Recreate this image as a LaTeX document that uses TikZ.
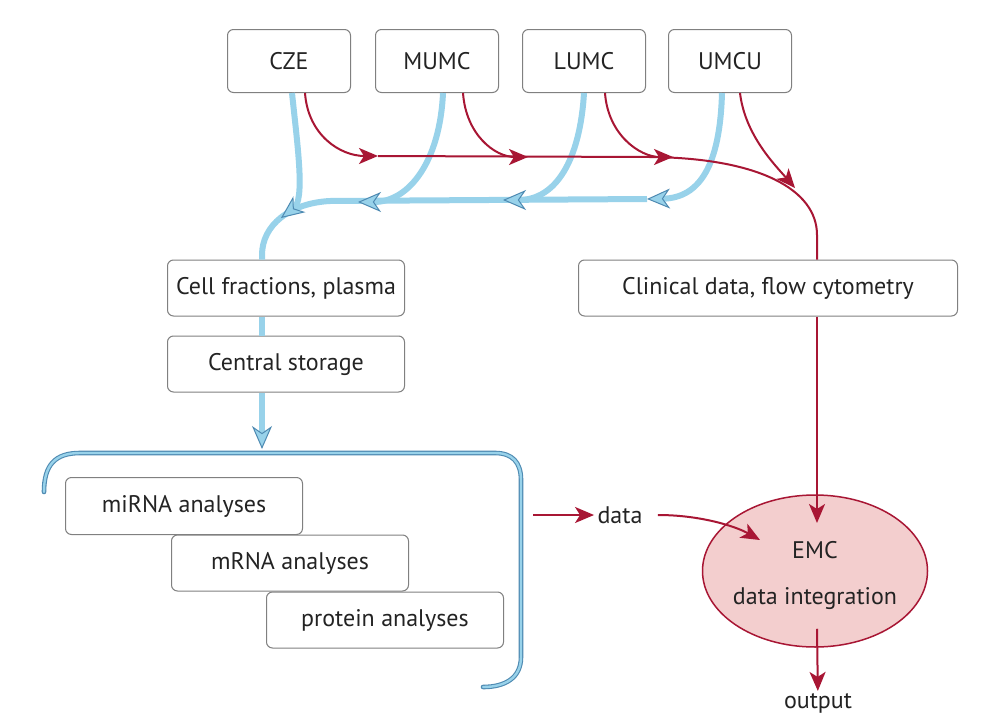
\documentclass[tikz,border=0pt]{standalone}
\usepackage{fontspec}
\setmainfont{PT Sans}
\usetikzlibrary{arrows.meta, shapes.geometric}
\definecolor{flowred}{RGB}{168,22,52}
\definecolor{flowblue}{RGB}{152,210,234}
\definecolor{tipblue}{RGB}{78,138,178}
\definecolor{boxgray}{RGB}{128,128,128}
\definecolor{textgray}{RGB}{35,35,35}
\definecolor{emcfill}{RGB}{243,206,206}

\begin{document}
\begin{tikzpicture}[x = 1pt, y = -1pt, font = \fontsize{24}{28}\selectfont, text = textgray,
    centre/.style = {draw = boxgray, line width = 1pt, rounded corners = 6pt, fill = white, minimum width = 123pt, minimum height = 63pt},
    stage/.style = {centre, minimum width = 237pt, minimum height = 56pt},
    sample/.style = {draw = flowblue, line width = 6pt},
    sampletip/.style = {-{Stealth[length = 23pt, width = 20pt, inset = 7pt, line width = 1pt, color = tipblue, fill = flowblue]}},
    datum/.style = {draw = flowred, line width = 2pt},
    datatip/.style = {-{Stealth[length = 19pt, width = 16pt, inset = 5pt]}}]
  \fill[white] (0,0) rectangle (993,728);
  \useasboundingbox (0,0) rectangle (993,728);

  \node[centre] (cze) at (289,61) {CZE};
  \node[centre] (mumc) at (437,61) {MUMC};
  \node[centre] (lumc) at (584,61) {LUMC};
  \node[centre] (umcu) at (730,61) {UMCU};

  \node[stage] (cells) at (286,288) {Cell fractions, plasma};
  \node[stage] (storage) at (286,364) {Central storage};
  \node[stage, minimum width = 379pt] (clinical) at (768,288) {Clinical data, flow cytometry};

  \node[stage, minimum height = 57pt] (mirna) at (184,506) {miRNA analyses};
  \node[stage] (mrna) at (290,563) {mRNA analyses};
  \node[stage] (protein) at (385,620) {protein analyses};

  \node[ellipse, draw = flowred, line width = 1.5pt, fill = emcfill, minimum width = 225pt, minimum height = 152pt] (emc) at (815,571) {};
  \node[align = center] (emctext) at ([yshift = -4pt]emc.center) {EMC\\[18pt]data integration};
  \node (data) at (620,515) {data};
  \node[inner sep = 2pt] (output) at (818,703) {output};

  \coordinate (ujoin) at (647,199);
  \coordinate (ljoin) at (503,200);
  \coordinate (mjoin) at (358,202);
  \coordinate (cjoin) at (281,218);
  \coordinate (pool) at (262,449);
  \coordinate (rc) at (378,156);
  \coordinate (rm) at (528,157);
  \coordinate (rl) at (673,157);
  \coordinate (ru) at (795,188);
  \coordinate (poolout) at (533,515);
  \coordinate (emcdata) at (760,540);
  \coordinate (emcclin) at (817,523);

  \draw[draw = tipblue, line width = 4.6pt, line cap = round] (44,492) .. controls (44,465) and (55,453) .. (80,453) -- (495,453) .. controls (512,453) and (521,462) .. (521,480) -- (521,657) .. controls (521,678) and (505,687) .. (483,687);
  \draw[draw = flowblue, line width = 2.4pt, line cap = round] (44,492) .. controls (44,465) and (55,453) .. (80,453) -- (495,453) .. controls (512,453) and (521,462) .. (521,480) -- (521,657) .. controls (521,678) and (505,687) .. (483,687);

  \draw[sample] (ujoin) -- (330,201) .. controls (290,203) and (262,225) .. (262,255) -- ([xshift = -24pt]cells.north);
  \draw[sample] ([xshift = -24pt]cells.south) -- ([xshift = -24pt]storage.north);
  \draw[sample, sampletip] ([xshift = -24pt]storage.south) -- (pool);
  \draw[sample, sampletip] ([xshift = -8pt]umcu.south) .. controls (720,165) and (700,198) .. (ujoin);
  \draw[sample, sampletip] (lumc.south) .. controls (580,160) and (556,200) .. (ljoin);
  \draw[sample, sampletip] ([xshift = 6pt]mumc.south) .. controls (440,160) and (410,202) .. (mjoin);
  \draw[sample, sampletip] ([xshift = 3pt]cze.south) .. controls (298,150) and (305,200) .. (cjoin);

  \draw[datum] (rc) -- (650,157) .. controls (760,158) and (817,190) .. (817,235) -- ([xshift = 49pt]clinical.north);
  \draw[datum, datatip] ([xshift = 16pt]cze.south) .. controls (308,135) and (340,156) .. (rc);
  \draw[datum, datatip] ([xshift = 26pt]mumc.south) .. controls (466,135) and (495,157) .. (rm);
  \draw[datum, datatip] ([xshift = 21pt]lumc.south) .. controls (608,135) and (640,157) .. (rl);
  \draw[datum, datatip] ([xshift = 10pt]umcu.south) .. controls (745,135) and (775,165) .. (ru);
  \draw[datum, datatip] ([xshift = 49pt]clinical.south) -- (emcclin);

  \draw[datum, datatip] (poolout) -- (data);
  \draw[datum, datatip, shorten <= 12pt] (data.east) .. controls (700,515) and (735,526) .. (emcdata);
  \draw[datum, datatip] ([xshift = 2pt, yshift = 19pt]emc.south) -- (output);
\end{tikzpicture}
\end{document}
